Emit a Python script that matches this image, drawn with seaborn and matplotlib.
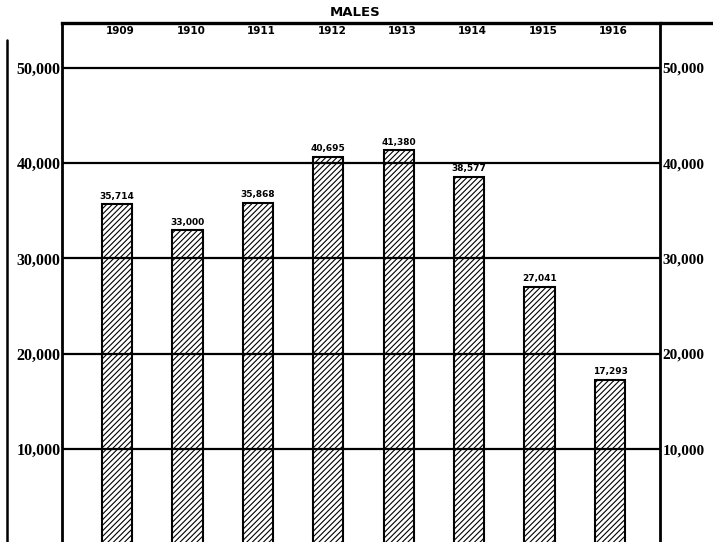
import matplotlib
matplotlib.use("Agg")
import matplotlib.pyplot as plt
import matplotlib.transforms as mtransforms
from matplotlib.lines import Line2D
import seaborn as sns
import pandas as pd

years = ["1909", "1910", "1911", "1912", "1913", "1914", "1915", "1916"]
males = [35714, 33000, 35868, 40695, 41380, 38577, 27041, 17293]
value_labels = ["35,714", "33,000", "35,868", "40,695", "41,380", "38,577", "27,041", "17,293"]
y_ticks = [10000, 20000, 30000, 40000, 50000]
y_tick_labels = ["10,000", "20,000", "30,000", "40,000", "50,000"]
title = "MALES"

df = pd.DataFrame({"year": years, "males": males})

sns.set_theme(style="white")
plt.rcParams["font.family"] = ["Liberation Serif", "DejaVu Serif"]
plt.rcParams["hatch.linewidth"] = 0.8
plt.rcParams["text.color"] = "black"
plt.rcParams["ytick.color"] = "black"
plt.rcParams["ytick.labelcolor"] = "black"

fig = plt.figure(figsize=(7.13, 5.42), dpi=100)
ax = fig.add_axes([62 / 713, 0.0, (660 - 62) / 713, (542 - 23) / 542])

sns.barplot(data=df, x="year", y="males", order=years, color="white",
            edgecolor="black", linewidth=1.5, width=0.43, ax=ax, zorder=2)
for p in ax.patches:
    p.set_hatch("//////")
    p.set_facecolor("white")
    p.set_edgecolor("black")

ax.set_xlim(-0.78, 7.71)
ax.set_ylim(240, 54720)

for t in y_ticks:
    ax.axhline(t, color="black", lw=1.6, zorder=3)

ax.set_xticks([])
ax.set_xlabel("")
ax.set_ylabel("")
ax.set_yticks(y_ticks)
ax.set_yticklabels(y_tick_labels, fontsize=11.5, fontweight="bold")
ax.tick_params(axis="y", length=0, pad=1, labelcolor="black")

for side in ["left", "right"]:
    ax.spines[side].set_linewidth(2.0)
    ax.spines[side].set_color("black")
ax.spines["top"].set_linewidth(2.4)
ax.spines["top"].set_color("black")
ax.spines["bottom"].set_visible(False)

ax2 = ax.twinx()
ax2.set_ylim(ax.get_ylim())
ax2.set_yticks(y_ticks)
ax2.set_yticklabels(y_tick_labels, fontsize=11, fontweight="bold")
ax2.tick_params(axis="y", length=0, pad=2, labelcolor="black")
for s in ax2.spines.values():
    s.set_visible(False)
ax2.grid(False)

# value labels
for i, (v, lab) in enumerate(zip(males, value_labels)):
    ax.text(i, v + 350, lab, ha="center", va="bottom", fontsize=6.5,
            fontweight="bold", family="DejaVu Sans", color="black", zorder=4)

# year labels along the top, inside the frame
trans = mtransforms.blended_transform_factory(ax.transData, ax.transAxes)
for i, y in enumerate(years):
    ax.text(i + 0.05, 0.995, y, transform=trans, ha="center", va="top",
            fontsize=7.5, fontweight="bold", family="DejaVu Sans", color="black")

# top border extends to the right page edge
fig.add_artist(Line2D([660 / 713, 1.0], [1 - 23 / 542, 1 - 23 / 542],
                      transform=fig.transFigure, color="black", lw=2.4))
# page edge line on the far left
fig.add_artist(Line2D([7 / 713, 7 / 713], [0.0, 1 - 40 / 542],
                      transform=fig.transFigure, color="black", lw=1.8))

fig.text(355 / 713, 1 - 12 / 542, title, ha="center", va="center",
         fontsize=9.5, fontweight="bold", family="DejaVu Sans", color="black")

fig.savefig("out.png", dpi=100)
